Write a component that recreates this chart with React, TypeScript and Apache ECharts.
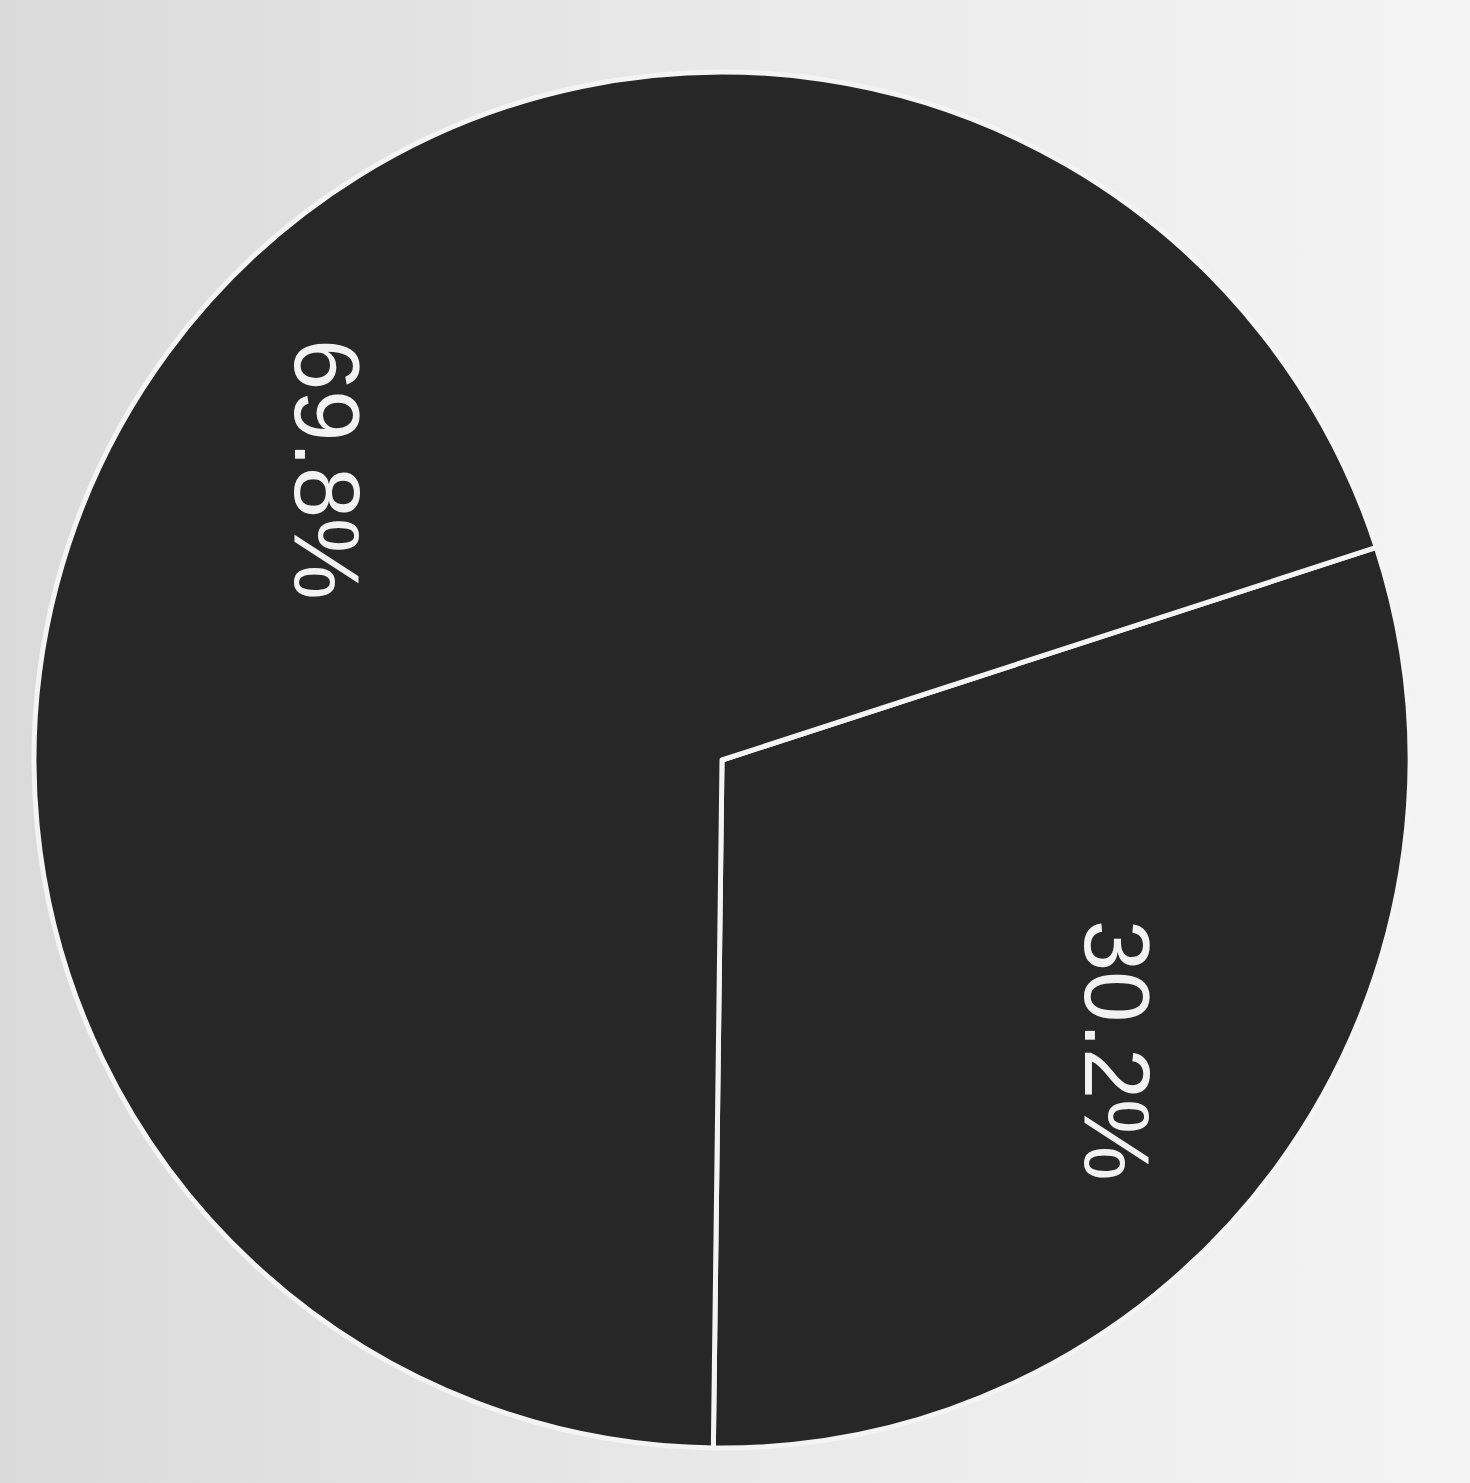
import React, { useEffect, useRef } from "react";
import * as echarts from "echarts";

const categories: string[] = ["Slice B", "Slice A"];
const values: number[] = [30.2, 69.8];
const labels: string[] = ["30.2%", "69.8%"];

export default function App() {
  const ref = useRef<HTMLDivElement>(null);
  useEffect(() => {
    document.body.style.margin = "0";
    const chart = echarts.init(ref.current!, undefined, { renderer: "svg" });
    const data = categories.map((name, i) => ({ name, value: values[i] }));
    const center = [722, 760];
    const R = 688;
    chart.setOption({
      animation: false,
      backgroundColor: {
        type: "linear",
        x: 0,
        y: 0,
        x2: 1,
        y2: 0,
        colorStops: [
          { offset: 0, color: "#dadada" },
          { offset: 0.5, color: "#e9e9e9" },
          { offset: 1, color: "#f4f4f4" },
        ],
      },
      series: [
        {
          type: "pie",
          center,
          radius: [0, R],
          startAngle: 18,
          clockwise: true,
          silent: true,
          data,
          label: { show: false },
          labelLine: { show: false },
          itemStyle: {
            color: "#272727",
            borderColor: "#f4f4f4",
            borderWidth: 5,
          },
        },
        {
          type: "pie",
          center,
          radius: [286, R],
          startAngle: 18,
          clockwise: true,
          silent: true,
          data,
          itemStyle: { color: "rgba(0,0,0,0)", borderWidth: 0 },
          labelLine: { show: false },
          label: {
            show: true,
            position: "inside",
            rotate: -90,
            color: "#f2f2f2",
            fontFamily: "Liberation Sans, Arial, sans-serif",
            fontSize: 92,
            formatter: (p: any) => labels[p.dataIndex],
          },
        },
      ],
    });
    return () => chart.dispose();
  }, []);
  return <div ref={ref} style={{ width: 1470, height: 1483 }} />;
}
